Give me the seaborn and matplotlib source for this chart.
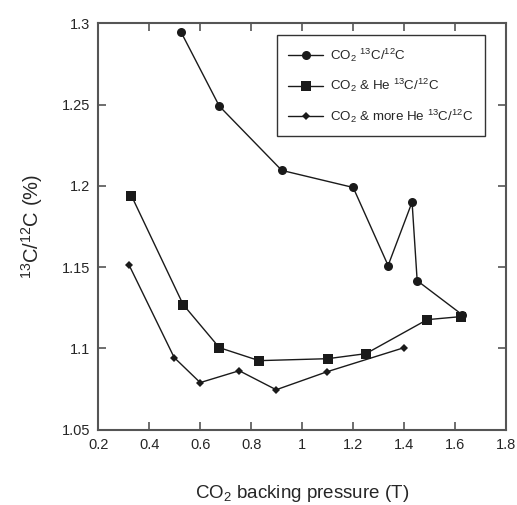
import numpy as np
import pandas as pd
import matplotlib
matplotlib.use("Agg")
import matplotlib.pyplot as plt
import seaborn as sns

# ============================================================
# Data
# ============================================================

co2_x = [0.525, 0.675, 0.92, 1.2, 1.337, 1.431, 1.451, 1.627]
co2_y = [1.2945, 1.249, 1.2095, 1.199, 1.151, 1.19, 1.1417, 1.1208]

he_x = [0.33, 0.533, 0.675, 0.831, 1.1, 1.25, 1.49, 1.624]
he_y = [1.194, 1.127, 1.1005, 1.0925, 1.0937, 1.0968, 1.1177, 1.1196]

more_he_x = [0.32, 0.498, 0.6, 0.753, 0.898, 1.098, 1.4]
more_he_y = [1.1516, 1.0944, 1.079, 1.0863, 1.0746, 1.0857, 1.1005]

labels = [r'CO$_2$ $^{13}$C/$^{12}$C',
          r'CO$_2$ & He $^{13}$C/$^{12}$C',
          r'CO$_2$ & more He $^{13}$C/$^{12}$C']

x_ticks = [0.2, 0.4, 0.6, 0.8, 1.0, 1.2, 1.4, 1.6, 1.8]
x_tick_labels = ['0.2', '0.4', '0.6', '0.8', '1', '1.2', '1.4', '1.6', '1.8']
y_ticks = [1.05, 1.1, 1.15, 1.2, 1.25, 1.3]
y_tick_labels = ['1.05', '1.1', '1.15', '1.2', '1.25', '1.3']

# ============================================================
# Style
# ============================================================

sns.set_style("ticks")
plt.rcParams['font.family'] = ['Liberation Sans', 'DejaVu Sans']
plt.rcParams['mathtext.default'] = 'regular'

fig = plt.figure(figsize=(5.17, 5.05), dpi=100)
ax = fig.add_axes([0.19, 0.149, 0.789, 0.805])

series = [
    (co2_x, co2_y, 'o', 6.5),
    (he_x, he_y, 's', 6.5),
    (more_he_x, more_he_y, 'D', 4.2),
]

for (xs, ys, mk, ms), lab in zip(series, labels):
    sns.lineplot(x=xs, y=ys, sort=False, ax=ax, color='#1a1a1a',
                 marker=mk, markersize=ms, markeredgewidth=0,
                 linewidth=1.0, label=lab)

ax.set_xlim(0.2, 1.8)
ax.set_ylim(1.05, 1.3)
ax.set_xticks(x_ticks)
ax.set_xticklabels(x_tick_labels)
ax.set_yticks(y_ticks)
ax.set_yticklabels(y_tick_labels)

ax.tick_params(direction='in', top=True, right=True, length=6,
               width=1.2, color='#555555', labelsize=10.5, pad=6)
for sp in ax.spines.values():
    sp.set_color('#555555')
    sp.set_linewidth(1.5)

ax.set_xlabel(r'CO$_2$ backing pressure (T)', fontsize=13.5, labelpad=22)
ax.set_ylabel(r'$^{13}$C/$^{12}$C (%)', fontsize=14.5, labelpad=12)

leg = ax.legend(loc='upper right', bbox_to_anchor=(0.9485, 0.9705),
                fontsize=9.6, frameon=True, fancybox=False,
                handlelength=2.6, handletextpad=0.55, borderpad=0.85,
                borderaxespad=0, labelspacing=1.0)
leg.get_frame().set_edgecolor('black')
leg.get_frame().set_linewidth(1.0)

plt.savefig("out.png", dpi=100)
